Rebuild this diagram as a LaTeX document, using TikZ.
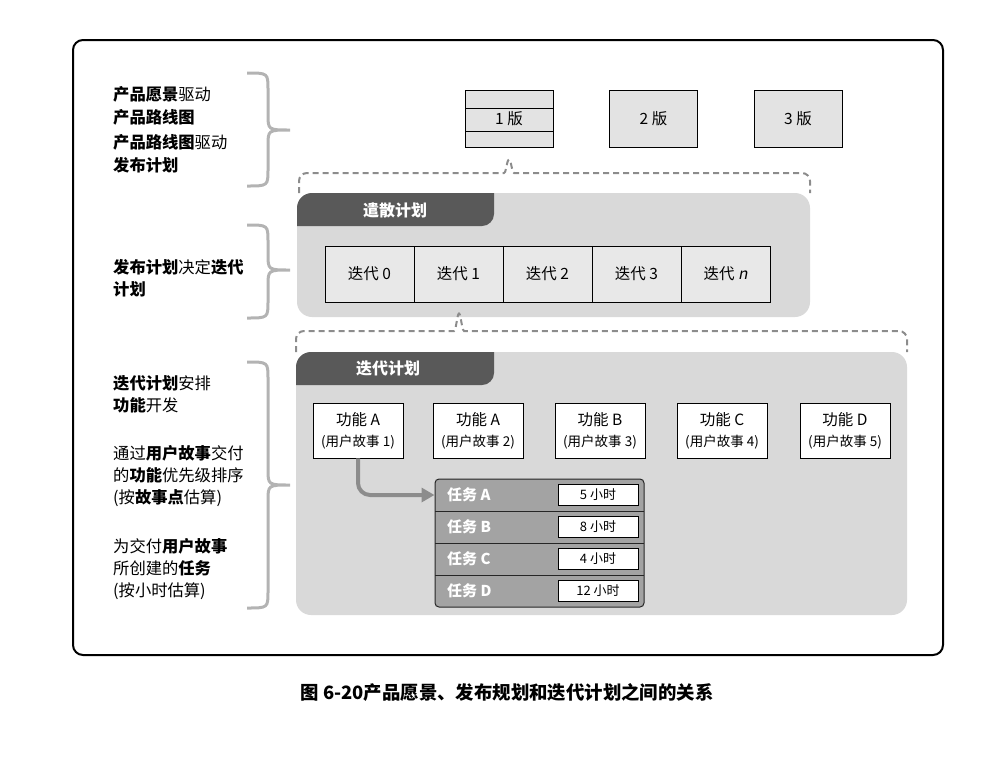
\documentclass[tikz,border=0pt]{standalone}
\usepackage{fontspec}
\setmainfont{Noto Sans CJK SC}[AutoFakeSlant=0.2]
\usetikzlibrary{arrows.meta}
\definecolor{panelgray}{HTML}{D9D9D9}
\definecolor{tabgray}{HTML}{595959}
\definecolor{boxgray}{HTML}{E3E3E3}
\definecolor{itergray}{HTML}{E8E8E8}
\definecolor{taskgray}{HTML}{A3A3A3}
\definecolor{dashgray}{HTML}{8C8C8C}
\definecolor{bracegray}{HTML}{B3B3B3}

\begin{document}
\begin{tikzpicture}[
  x=1pt, y=-1pt,
  frame/.style={draw=black, line width=2pt, rounded corners=10pt},
  curly/.style={draw=bracegray, line width=3pt},
  dashbrace/.style={draw=dashgray, line width=2pt, dash pattern=on 6pt off 4pt, rounded corners=8pt},
  note/.style={anchor=west, align=left, inner sep=0pt, font=\fontsize{16.3}{22}\selectfont},
  panel/.style={fill=panelgray, rounded corners=15pt},
  tabtext/.style={text=white, font=\bfseries\fontsize{16}{18}\selectfont},
  release/.style={draw=black, fill=boxgray, line width=0.8pt, minimum width=88pt, minimum height=57pt, font=\fontsize{15.5}{18}\selectfont},
  iter/.style={draw=black, fill=itergray, line width=0.8pt, inner sep=0pt, minimum width=89pt, minimum height=56pt, font=\fontsize{15.5}{18}\selectfont},
  feature/.style={draw=black, fill=white, line width=0.8pt, align=center, inner sep=0pt, minimum width=90pt, minimum height=55pt, font=\fontsize{15.5}{21}\selectfont},
  tasklabel/.style={anchor=west, text=white, inner sep=0pt, font=\bfseries\fontsize{15}{18}\selectfont},
  hours/.style={draw=black, fill=white, line width=0.8pt, inner sep=0pt, minimum width=80pt, minimum height=21pt, font=\fontsize{13}{15}\selectfont},
  flow/.style={draw=dashgray, line width=4pt, rounded corners=12pt, -{Triangle[length=13pt, width=14pt]}}
]
\useasboundingbox (0,0) rectangle (988,774);
\draw[frame] (73,40) rectangle (943,655);

% Left: notes and braces
\node[note, font=\fontsize{16.3}{23}\selectfont] (n1) at (113,105.5) {\textbf{产品愿景}驱动\\\textbf{产品路线图}};
\node[note, font=\fontsize{16.3}{23}\selectfont] (n2) at (113,154) {\textbf{产品路线图}驱动\\\textbf{发布计划}};
\node[note] (n3) at (113,278.5) {\textbf{发布计划}决定\textbf{迭代}\\\textbf{计划}};
\node[note] (n4) at (113,394) {\textbf{迭代计划}安排\\\textbf{功能}开发};
\node[note] (n5) at (113,476.5) {通过\textbf{用户故事}交付\\的\textbf{功能}优先级排序\\(按\textbf{故事点}估算)};
\node[note] (n6) at (113,569) {为交付\textbf{用户故事}\\所创建的\textbf{任务}\\(按小时估算)};

\draw[curly] (247,73) .. controls (268,73) .. (268,90) -- (268,114) .. controls (268,130) .. (290,130) .. controls (268,130) .. (268,146) -- (268,169) .. controls (268,186) .. (247,186);
\draw[curly] (247,225) .. controls (268,225) .. (268,242) -- (268,254) .. controls (268,270) .. (290,270) .. controls (268,270) .. (268,286) -- (268,301) .. controls (268,318) .. (247,318);
\draw[curly] (247,362) .. controls (268,362) .. (268,379) -- (268,469) .. controls (268,485) .. (290,485) .. controls (268,485) .. (268,501) -- (268,591) .. controls (268,608) .. (247,608);

% Top: releases
\node[release] (r1) at (509,118.5) {1 版};
\draw[line width=0.8pt] (465,108) -- (553,108) (465,131) -- (553,131);
\node[release] (r2) at (653.5,118.5) {2 版};
\node[release] (r3) at (798,118.5) {3 版};
\draw[dashbrace] (299,193) -- (299,173) -- (496,173) .. controls (505,173) .. (509,155) .. controls (513,173) .. (522,173) -- (810,173) -- (810,193);

% Middle: release plan
\fill[panel] (297,193) rectangle (810,317);
\begin{scope}
  \clip[rounded corners=15pt] (297,193) rectangle (810,317);
  \fill[tabgray, rounded corners=12pt] (280,170) rectangle (494,226);
\end{scope}
\node[tabtext] (relplan) at (395,210) {遣散计划};
\foreach \i/\t/\x in {0/0/369.5, 1/1/458.5, 2/2/547.5, 3/3/636.5, 4/\textit{n}/725.5}
  \node[iter] (it\i) at (\x,274) {迭代 \t};
\draw[dashbrace] (296,352) -- (296,331) -- (446,331) .. controls (455,331) .. (459,309) .. controls (463,331) .. (472,331) -- (907,331) -- (907,352);

% Bottom: iteration plan
\fill[panel] (296,352) rectangle (907,615);
\begin{scope}
  \clip[rounded corners=15pt] (296,352) rectangle (907,615);
  \fill[tabgray, rounded corners=12pt] (280,330) rectangle (494,385);
\end{scope}
\node[tabtext] (itplan) at (388,368) {迭代计划};
\foreach \n/\f/\x in {1/A/358, 2/A/478, 3/B/600, 4/C/722, 5/D/845}
  \node[feature] (f\n) at (\x,430.5) {功能 \f\\{\fontsize{13.5}{16}\selectfont (用户故事 \n)}};

\node[draw=black!85, fill=taskgray, line width=1pt, rounded corners=4pt, minimum width=209pt, minimum height=128pt] (tasks) at (539.5,543) {};
\foreach \y in {511, 543, 575}
  \draw[black!85, line width=1pt] (435,\y) -- (644,\y);
\foreach \t/\h/\y in {A/5/495, B/8/527, C/4/559, D/12/591} {
  \node[tasklabel] (t\t) at (447,\y) {任务 \t};
  \node[hours] (h\t) at (598,\y) {\h\ 小时};
}
\draw[flow] (f1.south) |- (tasks.west |- tA);

\node[font=\bfseries\fontsize{18.4}{20}\selectfont] (caption) at (507,692) {图 6-20产品愿景、发布规划和迭代计划之间的关系};
\end{tikzpicture}
\end{document}
